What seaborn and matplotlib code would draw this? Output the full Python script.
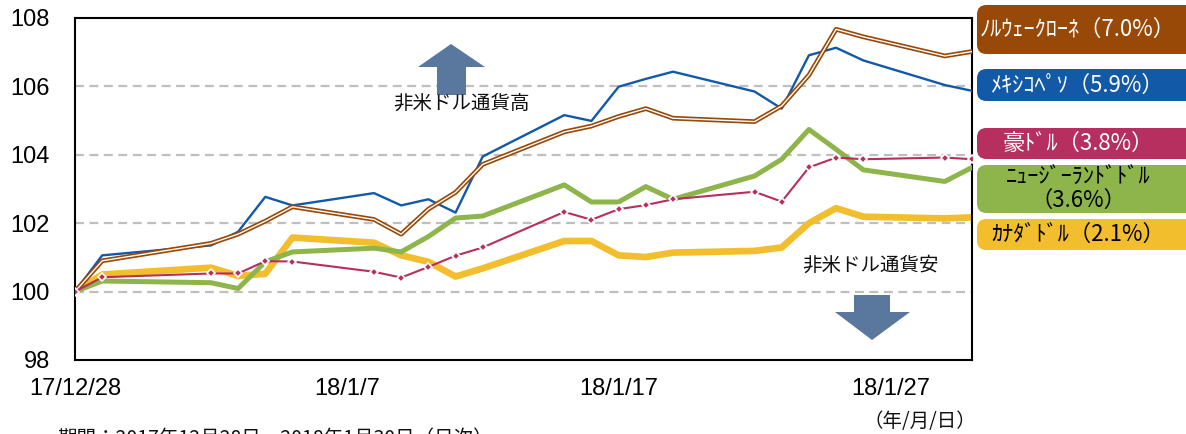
import numpy as np
import pandas as pd
import matplotlib
matplotlib.use("Agg")
import matplotlib.pyplot as plt
import matplotlib.dates as mdates
from matplotlib.patches import FancyBboxPatch, Polygon
from matplotlib.ticker import FixedLocator, FixedFormatter
import seaborn as sns

# ---------------- data ----------------
dates = ["2017-12-28", "2017-12-29", "2018-01-02", "2018-01-03", "2018-01-04",
         "2018-01-05", "2018-01-08", "2018-01-09", "2018-01-10", "2018-01-11",
         "2018-01-12", "2018-01-15", "2018-01-16", "2018-01-17", "2018-01-18",
         "2018-01-19", "2018-01-22", "2018-01-23", "2018-01-24", "2018-01-25",
         "2018-01-26", "2018-01-29", "2018-01-30"]
nok = [100, 100.90, 101.41, 101.68, 102.06, 102.48, 102.11, 101.68, 102.41, 102.90,
       103.72, 104.67, 104.84, 105.12, 105.35, 105.07, 104.97, 105.43, 106.33, 107.67,
       107.45, 106.89, 107.02]
mxn = [100, 101.06, 101.35, 101.75, 102.77, 102.52, 102.88, 102.52, 102.70, 102.31,
       103.95, 105.16, 104.99, 105.99, 106.22, 106.43, 105.85, 105.35, 106.91, 107.13,
       106.76, 106.04, 105.87]
aud = [100, 100.42, 100.53, 100.53, 100.89, 100.88, 100.58, 100.41, 100.72, 101.05,
       101.29, 102.33, 102.10, 102.41, 102.53, 102.70, 102.92, 102.63, 103.63, 103.92,
       103.87, 103.92, 103.87]
nzd = [100, 100.31, 100.26, 100.09, 100.87, 101.16, 101.27, 101.16, 101.61, 102.15,
       102.21, 103.12, 102.62, 102.62, 103.07, 102.70, 103.38, 103.87, 104.74, 104.16,
       103.56, 103.22, 103.63]
cad = [100, 100.50, 100.70, 100.46, 100.52, 101.58, 101.43, 101.06, 100.87, 100.44,
       100.68, 101.48, 101.48, 101.06, 101.01, 101.14, 101.19, 101.29, 102.00, 102.44,
       102.19, 102.14, 102.17]

legend_labels = ["ﾉﾙｳｪｰｸﾛｰﾈ（7.0%）", "ﾒｷｼｺﾍﾟｿ（5.9%）", "豪ﾄﾞﾙ（3.8%）",
                 "ﾆｭｰｼﾞｰﾗﾝﾄﾞﾄﾞﾙ\n（3.6%）", "ｶﾅﾀﾞﾄﾞﾙ（2.1%）"]
xtick_dates = ["2017-12-28", "2018-01-07", "2018-01-17", "2018-01-27"]
xtick_labels = ["17/12/28", "18/1/7", "18/1/17", "18/1/27"]
yticks = [98, 100, 102, 104, 106, 108]

C_NOK = "#984807"
C_MXN = "#1259A8"
C_AUD = "#B62F5E"
C_NZD = "#8DB54B"
C_CAD = "#F2BE2E"
C_ARROW = "#5A779E"

df = pd.DataFrame({"date": pd.to_datetime(dates), "nok": nok, "mxn": mxn,
                   "aud": aud, "nzd": nzd, "cad": cad})

# ---------------- figure ----------------
sns.set_theme(style="white")
plt.rcParams["font.family"] = ["Liberation Sans", "Noto Sans CJK JP", "DejaVu Sans"]

W, H = 1186, 434
fig = plt.figure(figsize=(W / 100, H / 100), dpi=100)
ax = fig.add_axes([75 / W, 1 - 360 / H, (972 - 75) / W, (360 - 18) / H])

# grid
for v in [100, 102, 104, 106]:
    ax.axhline(v, color="#BFBFBF", lw=1.6, ls=(0, (4, 2.5)), zorder=0)

sns.lineplot(data=df, x="date", y="cad", ax=ax, color=C_CAD, lw=4.8, zorder=2)
sns.lineplot(data=df, x="date", y="nzd", ax=ax, color=C_NZD, lw=3.6, zorder=3)
sns.lineplot(data=df, x="date", y="mxn", ax=ax, color=C_MXN, lw=1.7, zorder=4)
sns.lineplot(data=df, x="date", y="nok", ax=ax, color=C_NOK, lw=3.4, zorder=5)
sns.lineplot(data=df, x="date", y="nok", ax=ax, color="white", lw=1.0, zorder=6)
sns.lineplot(data=df, x="date", y="aud", ax=ax, color=C_AUD, lw=1.5, zorder=7,
             marker="D", markersize=4.5, markerfacecolor=C_AUD,
             markeredgecolor="white", markeredgewidth=1.2)

x0 = mdates.date2num(pd.Timestamp("2017-12-28"))
x1 = mdates.date2num(pd.Timestamp("2018-01-30"))
ax.set_xlim(x0, x1)
ax.set_ylim(98, 108)
ax.xaxis.set_major_locator(FixedLocator([mdates.date2num(pd.Timestamp(d)) for d in xtick_dates]))
ax.xaxis.set_major_formatter(FixedFormatter(xtick_labels))
ax.set_yticks(yticks)
ax.set_yticklabels([str(v) for v in yticks])
ax.set_xlabel("")
ax.set_ylabel("")
ax.tick_params(axis="both", which="major", direction="out", length=6, width=1.3,
               color="black", labelsize=17, labelcolor="black")
ax.tick_params(axis="y", pad=12)
ax.tick_params(axis="x", pad=7)
for s in ax.spines.values():
    s.set_color("black")
    s.set_linewidth(1.5)
    s.set_visible(True)

# ---------------- arrows & annotations ----------------
def px(x, y):
    return (x / W, 1 - y / H)

up = [px(437, 95), px(437, 67), px(418, 67), px(451, 44), px(485, 67), px(466, 67), px(466, 95)]
fig.patches.append(Polygon(up, closed=True, transform=fig.transFigure,
                           facecolor=C_ARROW, edgecolor="none"))
down = [px(854, 295), px(890, 295), px(890, 312), px(910, 312), px(872, 340),
        px(835, 312), px(854, 312)]
fig.patches.append(Polygon(down, closed=True, transform=fig.transFigure,
                           facecolor=C_ARROW, edgecolor="none"))

jp = ["Noto Sans CJK JP", "DejaVu Sans"]
fig.text(461 / W, 1 - 103 / H, "非米ドル通貨高", ha="center", va="center",
         fontsize=14, family=jp, color="#111111")
fig.text(870 / W, 1 - 265 / H, "非米ドル通貨安", ha="center", va="center",
         fontsize=14, family=jp, color="#111111")
fig.text(920 / W, 1 - 421 / H, "（年/月/日）", ha="center", va="center",
         fontsize=14, family=jp, color="#111111")
fig.text(57 / W, 1 - 428 / H, "期間：2017年12月28日～2018年1月30日（日次）",
         ha="left", va="top", fontsize=14, family=jp, color="#111111")

# ---------------- legend boxes ----------------
boxes = [(5, 54, C_NOK, "white"), (69, 101, C_MXN, "white"), (128, 159, C_AUD, "white"),
         (165, 213, C_NZD, "black"), (219, 250, C_CAD, "black")]
for (ytop, ybot, fc, tc), lab in zip(boxes, legend_labels):
    x_l, x_r = 977, 1200
    bb = FancyBboxPatch((x_l / W, 1 - ybot / H), (x_r - x_l) / W, (ybot - ytop) / H,
                        boxstyle="round,pad=0,rounding_size=0.008",
                        transform=fig.transFigure, facecolor=fc, edgecolor="none",
                        mutation_aspect=W / H, clip_on=False)
    fig.patches.append(bb)
    fig.text(1078 / W, 1 - (ytop + ybot) / 2 / H, lab, ha="center", va="center",
             fontsize=16, family=jp, color=tc, linespacing=1.0)

fig.savefig("out.png", dpi=100)
